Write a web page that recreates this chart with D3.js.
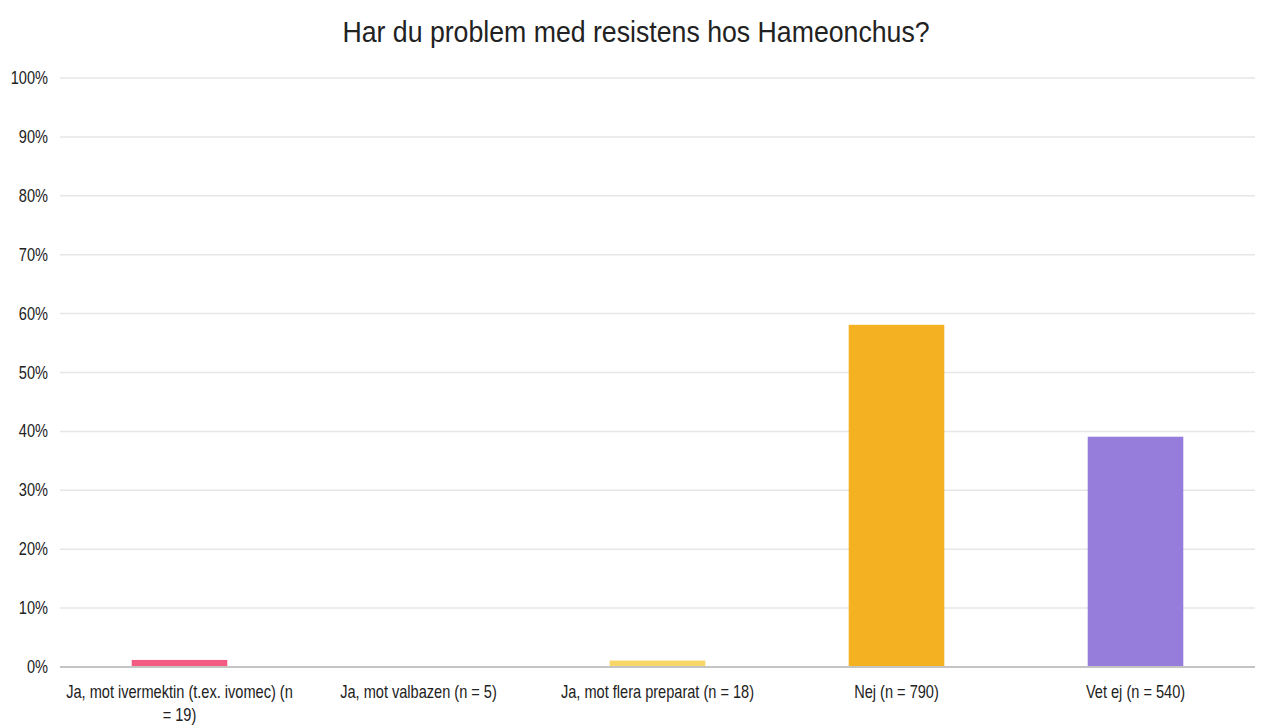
<!DOCTYPE html>
<html>
<head>
<meta charset="utf-8">
<title>Har du problem med resistens hos Hameonchus?</title>
<script src="https://d3js.org/d3.v7.min.js"></script>
<style>
  body { margin: 0; background: #fff; }
  text { font-family: "Liberation Sans", Arial, sans-serif; fill: #222; }
</style>
</head>
<body>
<div id="vis"></div>
<script>
// chart data
const categories = [
  ["Ja, mot ivermektin (t.ex. ivomec) (n", "= 19)"],
  ["Ja, mot valbazen (n = 5)"],
  ["Ja, mot flera preparat (n = 18)"],
  ["Nej (n = 790)"],
  ["Vet ej (n = 540)"]
];
const values = [1.2, 0, 1.1, 58.1, 39.1];
const colors = ["#f45b83", "#b0b0b0", "#f8d668", "#f4b122", "#977ddb"];
const yTicks = [0, 10, 20, 30, 40, 50, 60, 70, 80, 90, 100];

const W = 1262, H = 726;
const margin = {left: 60, right: 7, top: 78, bottom: 59};
// the text in the original looks squeezed sideways
const squeeze = 0.81;

const svg = d3.select("#vis").append("svg")
  .attr("width", W).attr("height", H);

const x = d3.scaleBand()
  .domain(d3.range(categories.length))
  .range([margin.left, W - margin.right])
  .paddingInner(0.6).paddingOuter(0.3);

const y = d3.scaleLinear()
  .domain([0, 100])
  .range([H - margin.bottom, margin.top]);

// title
svg.append("text")
  .attr("transform", "translate(636,42) scale(0.89,1)")
  .attr("text-anchor", "middle")
  .style("font-size", "30px")
  .text("Har du problem med resistens hos Hameonchus?");

// grid
svg.append("g").selectAll("line")
  .data(yTicks.filter(d => d > 0))
  .join("line")
  .attr("x1", margin.left).attr("x2", W - margin.right)
  .attr("y1", d => y(d)).attr("y2", d => y(d))
  .attr("stroke", "#e6e6e6").attr("stroke-width", 1.5);

// y labels
svg.append("g").selectAll("text")
  .data(yTicks)
  .join("text")
  .attr("transform", d => `translate(48,${y(d) + 6}) scale(${squeeze},1)`)
  .attr("text-anchor", "end")
  .style("font-size", "18px")
  .text(d => d + "%");

// bars
svg.append("g").selectAll("rect")
  .data(values)
  .join("rect")
  .attr("x", (d, i) => x(i))
  .attr("width", x.bandwidth())
  .attr("y", d => y(d))
  .attr("height", d => y(0) - y(d))
  .attr("fill", (d, i) => colors[i]);

// baseline
svg.append("line")
  .attr("x1", margin.left).attr("x2", W - margin.right)
  .attr("y1", y(0)).attr("y2", y(0))
  .attr("stroke", "#c4c4c4").attr("stroke-width", 2);

// category labels
const lab = svg.append("g").selectAll("text")
  .data(categories)
  .join("text")
  .attr("transform", (d, i) => `translate(${x(i) + x.bandwidth() / 2},698) scale(${squeeze},1)`)
  .attr("text-anchor", "middle")
  .style("font-size", "18px");
lab.selectAll("tspan")
  .data(d => d)
  .join("tspan")
  .attr("x", 0)
  .attr("dy", (d, i) => i ? 23 : 0)
  .text(d => d);
</script>
</body>
</html>
